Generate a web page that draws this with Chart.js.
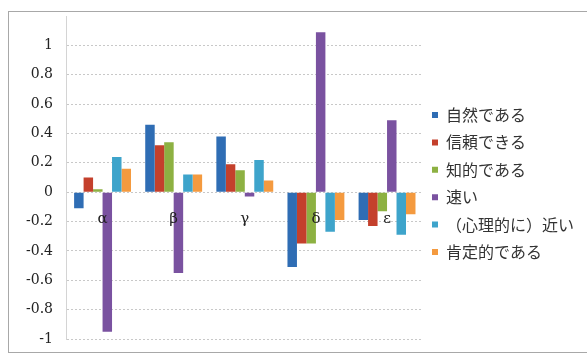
<!DOCTYPE html>
<html>
<head>
<meta charset="utf-8">
<script src="https://cdn.jsdelivr.net/npm/chart.js@4"></script>
<style>
  html, body { margin: 0; padding: 0; background: #fff; }
  #wrap { width: 587px; height: 355px; position: relative; }
</style>
</head>
<body>
<div id="wrap"><canvas id="chart" width="587" height="355"></canvas></div>
<script>
// categories and series
const categories = ["α", "β", "γ", "δ", "ε"];
const seriesNames = ["自然である", "信頼できる", "知的である", "速い", "（心理的に）近い", "肯定的である"];
const seriesColors = ["#2f6db4", "#c4402c", "#8db142", "#7a52a0", "#3ea4cb", "#f49a3f"];

const natural = [-0.11, 0.46, 0.38, -0.51, -0.19];
const reliable = [0.10, 0.32, 0.19, -0.35, -0.23];
const intelligent = [0.02, 0.34, 0.15, -0.35, -0.13];
const fast = [-0.95, -0.55, -0.03, 1.09, 0.49];
const close = [0.24, 0.12, 0.22, -0.27, -0.29];
const positive = [0.16, 0.12, 0.08, -0.19, -0.15];

const yTicks = [-1, -0.8, -0.6, -0.4, -0.2, 0, 0.2, 0.4, 0.6, 0.8, 1];

const seriesValues = [natural, reliable, intelligent, fast, close, positive];

// white background plus the thin outer frame
const framePlugin = {
  id: "frame",
  beforeDraw(chart) {
    const ctx = chart.ctx;
    ctx.save();
    ctx.fillStyle = "#fff";
    ctx.fillRect(0, 0, chart.width, chart.height);
    ctx.strokeStyle = "#a8a8a8";
    ctx.lineWidth = 1;
    ctx.strokeRect(8.5, 11.5, chart.width + 10, chart.height - 14);
    ctx.restore();
  }
};

// category names sit just under the zero line, like the original sheet
const zeroLabels = {
  id: "zeroLabels",
  afterDatasetsDraw(chart) {
    const { ctx, scales: { x, y } } = chart;
    const y0 = y.getPixelForValue(0);
    ctx.save();
    ctx.fillStyle = "#222";
    ctx.font = "15px 'DejaVu Serif'";
    ctx.textAlign = "center";
    ctx.textBaseline = "middle";
    chart.data.labels.forEach((lab, i) => {
      ctx.fillText(lab, x.getPixelForValue(i), y0 + 27);
    });
    ctx.restore();
  }
};

// pull the legend closer to the plot and a bit lower
const legendNudge = {
  id: "legendNudge",
  afterLayout(chart) {
    const lg = chart.legend;
    if (lg) {
      lg.left -= 2;
      lg.right -= 2;
      lg.top += 6;
      lg.bottom += 6;
    }
  }
};

const ctx = document.getElementById("chart").getContext("2d");
new Chart(ctx, {
  type: "bar",
  data: {
    labels: categories,
    datasets: seriesNames.map((name, i) => ({
      label: name,
      data: seriesValues[i],
      backgroundColor: seriesColors[i],
      borderWidth: 0,
      categoryPercentage: 0.8,
      barPercentage: 1.0
    }))
  },
  options: {
    responsive: false,
    animation: false,
    layout: {
      padding: { left: 12, top: 16, bottom: 16, right: 1 }
    },
    scales: {
      x: {
        display: false
      },
      y: {
        min: -1,
        max: 1.2,
        afterBuildTicks(scale) {
          scale.ticks = yTicks.map(v => ({ value: v }));
        },
        // layout padding alone decides the plot height
        afterFit(scale) {
          scale.paddingTop = 0;
          scale.paddingBottom = 0;
        },
        grid: {
          color: "#c8c8c8",
          drawTicks: false
        },
        border: { color: "#d4d4d4", dash: [2, 2] },
        ticks: {
          color: "#222",
          padding: 14,
          font: { family: "DejaVu Serif", size: 14 },
          callback: v => String(Math.round(v * 10) / 10)
        }
      }
    },
    plugins: {
      legend: {
        position: "right",
        maxWidth: 200,
        labels: {
          boxWidth: 6,
          boxHeight: 6,
          padding: 11.4,
          color: "#333",
          font: { family: "Noto Sans CJK JP", size: 16 }
        }
      },
      tooltip: { enabled: false }
    }
  },
  plugins: [framePlugin, zeroLabels, legendNudge]
});
</script>
</body>
</html>
